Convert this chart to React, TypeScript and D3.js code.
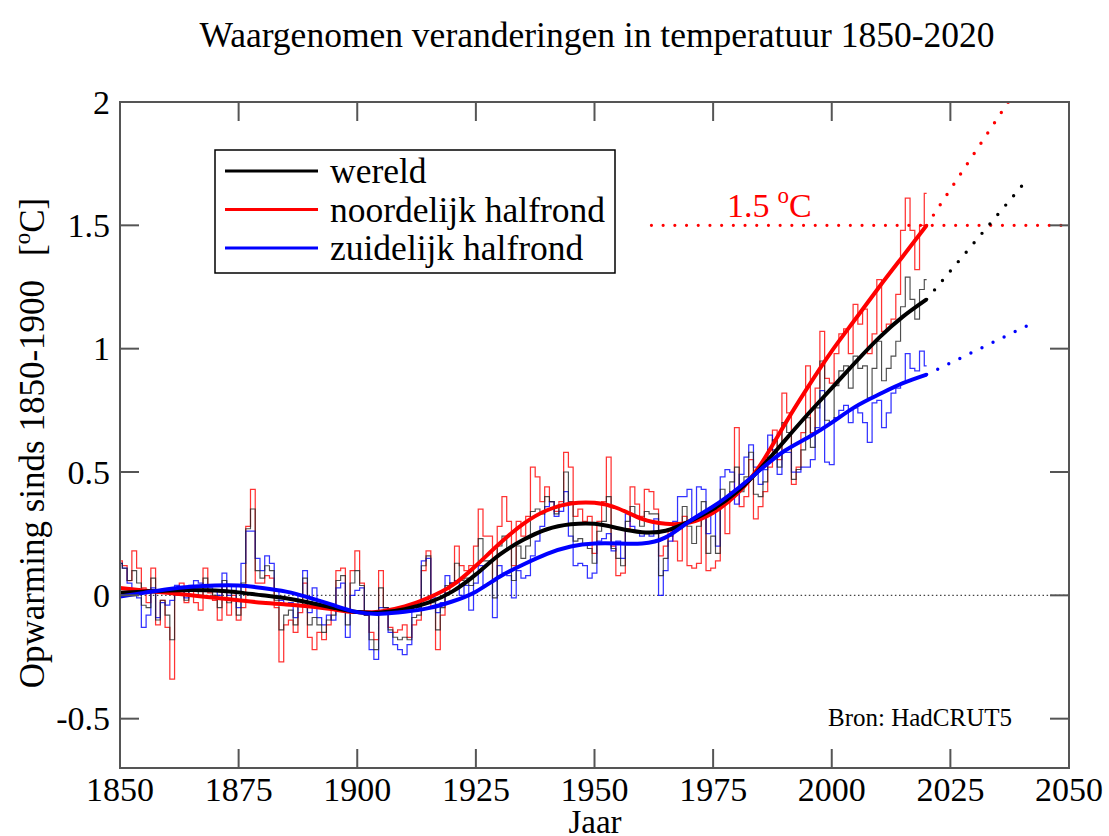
import * as d3 from "d3";

const firstYear = 1850;

const wereld = [
  0.13, 0.11, 0.06, 0.1, 0.05, -0.04, -0.05, 0.07, -0.1, -0.02,
  -0.08, -0.18, 0.02, 0.03, -0.02, 0.03, 0.02, 0.0, 0.07, 0.02,
  0.0, -0.05, 0.06, -0.03, 0.02, -0.08, 0.05, 0.27, 0.35, 0.1,
  0.07, 0.12, 0.1, -0.02, -0.14, -0.08, -0.06, -0.12, -0.04, 0.07,
  -0.12, -0.09, -0.12, -0.15, -0.1, -0.08, 0.06, 0.08, -0.12, 0.05,
  0.1, 0.04, -0.08, -0.18, -0.22, 0.03, -0.05, -0.14, -0.17, -0.18,
  -0.17, -0.18, -0.09, -0.08, 0.12, 0.16, -0.03, -0.14, -0.05, 0.04,
  0.05, 0.13, 0.06, 0.07, 0.04, 0.12, 0.23, 0.14, 0.14, -0.01,
  0.2, 0.24, 0.19, 0.06, 0.2, 0.15, 0.2, 0.34, 0.35, 0.33,
  0.4, 0.38, 0.33, 0.36, 0.5, 0.38, 0.22, 0.23, 0.21, 0.19,
  0.13, 0.26, 0.3, 0.4, 0.19, 0.15, 0.12, 0.3, 0.36, 0.32,
  0.28, 0.34, 0.33, 0.33, 0.08, 0.15, 0.24, 0.26, 0.27, 0.36,
  0.28, 0.21, 0.28, 0.38, 0.17, 0.24, 0.17, 0.43, 0.38, 0.46,
  0.52, 0.42, 0.48, 0.58, 0.41, 0.4, 0.46, 0.59, 0.63, 0.52,
  0.7, 0.66, 0.47, 0.51, 0.59, 0.72, 0.6, 0.76, 0.95, 0.71,
  0.7, 0.85, 0.91, 0.93, 0.84, 0.97, 0.92, 0.93, 0.8, 0.92,
  1.03, 0.87, 0.92, 0.97, 1.03, 1.17, 1.29, 1.2, 1.12, 1.24,
  1.28,
];

const noord = [
  0.14, 0.12, 0.06, 0.18, 0.11, 0.03, -0.03, 0.11, -0.12, -0.02,
  -0.13, -0.34, 0.0, 0.05, -0.03, 0.02, -0.03, -0.06, 0.11, 0.01,
  -0.02, -0.1, 0.04, -0.08, 0.0, -0.1, -0.05, 0.28, 0.43, 0.05,
  0.05, 0.08, 0.07, -0.05, -0.27, -0.12, -0.1, -0.15, -0.07, 0.05,
  -0.17, -0.22, -0.15, -0.18, -0.12, -0.06, 0.1, 0.11, -0.07, 0.1,
  0.18, 0.05, -0.08, -0.15, -0.18, 0.1, -0.05, -0.13, -0.15, -0.14,
  -0.12, -0.17, -0.12, -0.1, 0.1, 0.18, -0.05, -0.22, -0.08, 0.01,
  0.05, 0.2, 0.12, 0.1, 0.12, 0.2, 0.35, 0.24, 0.24, 0.06,
  0.28, 0.4, 0.3, 0.12, 0.3, 0.24, 0.32, 0.52, 0.48, 0.38,
  0.44, 0.38, 0.34, 0.38, 0.58, 0.52, 0.32, 0.35, 0.3, 0.32,
  0.17, 0.3, 0.38, 0.56, 0.2, 0.08, 0.09, 0.27, 0.44, 0.37,
  0.32, 0.43, 0.42, 0.35, 0.16, 0.2, 0.26, 0.22, 0.14, 0.32,
  0.12, 0.11, 0.13, 0.33, 0.1, 0.11, 0.14, 0.38, 0.25, 0.42,
  0.68, 0.36, 0.4, 0.55, 0.31, 0.36, 0.42, 0.52, 0.67, 0.55,
  0.82, 0.74, 0.45, 0.52, 0.66, 0.93, 0.66, 0.84, 1.07, 0.88,
  0.86, 0.98, 1.06, 1.08, 0.98, 1.18, 1.1, 1.16, 0.98, 1.06,
  1.28, 1.07, 1.1, 1.12, 1.22, 1.48, 1.61, 1.48, 1.32, 1.5,
  1.63,
];

const zuid = [
  0.13, 0.11, 0.05, 0.02, -0.01, -0.13, -0.08, 0.03, -0.09, -0.03,
  -0.04, -0.02, 0.04, 0.02, -0.01, 0.04, 0.06, 0.05, 0.03, 0.03,
  0.02, 0.0, 0.09, 0.0, 0.04, -0.05, 0.13, 0.26, 0.26, 0.15,
  0.1, 0.16, 0.13, 0.02, -0.02, -0.04, -0.03, -0.09, 0.0, 0.1,
  -0.07, 0.03, -0.09, -0.12, -0.08, -0.1, 0.03, 0.05, -0.17, 0.0,
  0.02, 0.03, -0.08, -0.22, -0.26, -0.05, -0.05, -0.15, -0.2, -0.22,
  -0.24, -0.2, -0.06, -0.05, 0.14, 0.15, -0.01, -0.07, -0.03, 0.08,
  0.05, 0.06, 0.0, 0.04, -0.06, 0.05, 0.12, 0.04, 0.05, -0.09,
  0.12, 0.09, 0.08, -0.01, 0.1, 0.07, 0.08, 0.16, 0.22, 0.28,
  0.36, 0.38, 0.32, 0.34, 0.42, 0.24, 0.12, 0.13, 0.12, 0.07,
  0.09, 0.22, 0.23, 0.25, 0.18, 0.22, 0.15, 0.33, 0.28, 0.26,
  0.24, 0.25, 0.24, 0.31, 0.0, 0.1, 0.22, 0.3, 0.4, 0.4,
  0.43, 0.31, 0.44, 0.43, 0.25, 0.36, 0.2, 0.48, 0.51, 0.5,
  0.37, 0.49, 0.56, 0.61, 0.52, 0.45, 0.51, 0.65, 0.59, 0.49,
  0.58, 0.58, 0.5, 0.5, 0.52, 0.52, 0.55, 0.68, 0.83, 0.54,
  0.53, 0.72, 0.75, 0.77, 0.7, 0.76, 0.74, 0.7, 0.62, 0.78,
  0.79, 0.68, 0.74, 0.82, 0.84, 0.86, 0.98, 0.92, 0.91, 0.99,
  0.93,
];

const smoothYears = [
  1850, 1855, 1860, 1865, 1870, 1875, 1880, 1885, 1890, 1895, 1900, 1905, 1910,
  1915, 1920, 1925, 1930, 1935, 1940, 1945, 1950, 1955, 1960, 1965, 1970, 1975,
  1980, 1985, 1990, 1995, 2000, 2005, 2010, 2015, 2020,
];
const smoothWereld = [
  0.01, 0.015, 0.02, 0.022, 0.02, 0.012, 0.0, -0.012, -0.03, -0.05, -0.068,
  -0.07, -0.056, -0.03, 0.015, 0.085, 0.165, 0.225, 0.268, 0.288, 0.29, 0.272,
  0.256, 0.262, 0.3, 0.35, 0.42, 0.515, 0.625, 0.735, 0.84, 0.945, 1.045, 1.13,
  1.2,
];
const smoothNoord = [
  0.03, 0.02, 0.01, 0.0, -0.01, -0.02, -0.03, -0.037, -0.045, -0.057, -0.068,
  -0.065, -0.045, -0.01, 0.04, 0.12, 0.21, 0.29, 0.345, 0.372, 0.375, 0.352,
  0.31, 0.29, 0.295, 0.335, 0.41, 0.53, 0.69, 0.845, 0.99, 1.12, 1.25, 1.375,
  1.5,
];
const smoothZuid = [
  -0.005, 0.01, 0.025, 0.035, 0.04, 0.04, 0.03, 0.015, -0.01, -0.04, -0.068,
  -0.075, -0.067, -0.052, -0.025, 0.015, 0.075, 0.125, 0.168, 0.198, 0.21, 0.21,
  0.21, 0.235, 0.3, 0.36, 0.43, 0.51, 0.585, 0.64, 0.7, 0.765, 0.815, 0.86,
  0.895,
];

// doorgetrokken trends (stippellijnen)
const projNoord = [[2020, 1.5], [2037.2, 2.0]];
const projWereld = [[2020, 1.2], [2040.5, 1.67]];
const projZuid = [[2020, 0.895], [2043, 1.11]];
const limitYears = [1962, 2050];
const limitValue = 1.5;

const xTicks = [1850, 1875, 1900, 1925, 1950, 1975, 2000, 2025, 2050];
const yTicks = [-0.5, 0, 0.5, 1, 1.5, 2];

const legendItems = [
  { label: "wereld", color: "#000" },
  { label: "noordelijk halfrond", color: "#ff0000" },
  { label: "zuidelijk halfrond", color: "#0000ff" },
];

const W = 1109;
const H = 836;
const FONT = "'Liberation Serif', 'Times New Roman', serif";
const RED = "#ff0000";
const BLUE = "#0000ff";

export default function App() {
  const left = 120, right = 1069, top = 102, bottom = 768;
  const x = d3.scaleLinear().domain([1850, 2050]).range([left, right]);
  const y = d3.scaleLinear().domain([-0.7, 2]).range([bottom, top]);

  const step = d3
    .line<number>()
    .x((_, i) => x(firstYear + i))
    .y((d) => y(d))
    .curve(d3.curveStep);

  const smooth = d3
    .line<number>()
    .x((_, i) => x(smoothYears[i]))
    .y((d) => y(d))
    .curve(d3.curveNatural);

  const straight = d3
    .line<number[]>()
    .x((d) => x(d[0]))
    .y((d) => y(d[1]));

  const tickLen = 19;
  const frame = "#555";
  const dots = { strokeWidth: 3.4, strokeLinecap: "round" as const, strokeDasharray: "0 12.3", fill: "none" };

  return (
    <svg
      width={W}
      height={H}
      style={{ position: "absolute", left: 0, top: 0, background: "#fff" }}
      fontFamily={FONT}
    >
      <defs>
        <clipPath id="plot">
          <rect x={left} y={top} width={right - left} height={bottom - top} />
        </clipPath>
      </defs>

      <text x={597} y={47} textAnchor="middle" fontSize={35.5}>
        Waargenomen veranderingen in temperatuur 1850-2020
      </text>

      <g clipPath="url(#plot)">
        <line
          x1={left} x2={right} y1={y(0)} y2={y(0)}
          stroke="#444" strokeWidth={1.3} strokeDasharray="1.5 2.6"
        />
        <path d={step(noord)!} fill="none" stroke={RED} strokeWidth={1.25} opacity={0.8} />
        <path d={step(zuid)!} fill="none" stroke={BLUE} strokeWidth={1.25} opacity={0.8} />
        <path d={step(wereld)!} fill="none" stroke="#222" strokeWidth={1.15} opacity={0.8} />
        <path d={smooth(smoothNoord)!} fill="none" stroke={RED} strokeWidth={4} />
        <path d={smooth(smoothWereld)!} fill="none" stroke="#000" strokeWidth={4} />
        <path d={smooth(smoothZuid)!} fill="none" stroke={BLUE} strokeWidth={4} />

        <line
          x1={x(limitYears[0])} x2={x(limitYears[1])} y1={y(limitValue)} y2={y(limitValue)}
          stroke={RED} strokeWidth={3.2} strokeLinecap="round" strokeDasharray="0 11.7"
        />
        <path d={straight(projNoord)!} stroke={RED} {...dots} />
        <path d={straight(projWereld)!} stroke="#000" {...dots} />
        <path d={straight(projZuid)!} stroke={BLUE} {...dots} />
      </g>

      <text x={727} y={217} fontSize={34} fill={RED}>
        1.5
        <tspan dx={8} dy={-14} fontSize={23}>o</tspan>
        <tspan dy={14}>C</tspan>
      </text>

      {/* kader + streepjes */}
      <rect x={left} y={top} width={right - left} height={bottom - top} fill="none" stroke={frame} strokeWidth={2} />
      {xTicks.map((t) => (
        <g key={"x" + t}>
          <line x1={x(t)} x2={x(t)} y1={bottom} y2={bottom - tickLen} stroke={frame} strokeWidth={2} />
          <line x1={x(t)} x2={x(t)} y1={top} y2={top + tickLen} stroke={frame} strokeWidth={2} />
          <text x={x(t)} y={801} textAnchor="middle" fontSize={34}>{t}</text>
        </g>
      ))}
      {yTicks.map((t) => (
        <g key={"y" + t}>
          <line x1={left} x2={left + tickLen} y1={y(t)} y2={y(t)} stroke={frame} strokeWidth={2} />
          <line x1={right} x2={right - tickLen} y1={y(t)} y2={y(t)} stroke={frame} strokeWidth={2} />
          <text x={110} y={y(t)} textAnchor="end" dominantBaseline="central" fontSize={34}>{String(t)}</text>
        </g>
      ))}

      <text x={595} y={833} textAnchor="middle" fontSize={33}>Jaar</text>

      <text transform="translate(44,443) rotate(-90)" textAnchor="middle" fontSize={35}>
        Opwarming sinds 1850-1900
        <tspan dx={24}>[</tspan>
        <tspan dy={-14} fontSize={23}>o</tspan>
        <tspan dy={14}>C]</tspan>
      </text>

      <text x={828} y={726} fontSize={25}>Bron: HadCRUT5</text>

      {/* legenda */}
      <rect x={215} y={150} width={400} height={123} fill="#fff" stroke="#000" strokeWidth={1.5} />
      {legendItems.map((d, i) => (
        <g key={d.label} transform={`translate(0,${171 + i * 38.5})`}>
          <line x1={225} x2={318} y1={0} y2={0} stroke={d.color} strokeWidth={3} />
          <text x={330} y={0} dominantBaseline="central" fontSize={35.5}>{d.label}</text>
        </g>
      ))}
    </svg>
  );
}
